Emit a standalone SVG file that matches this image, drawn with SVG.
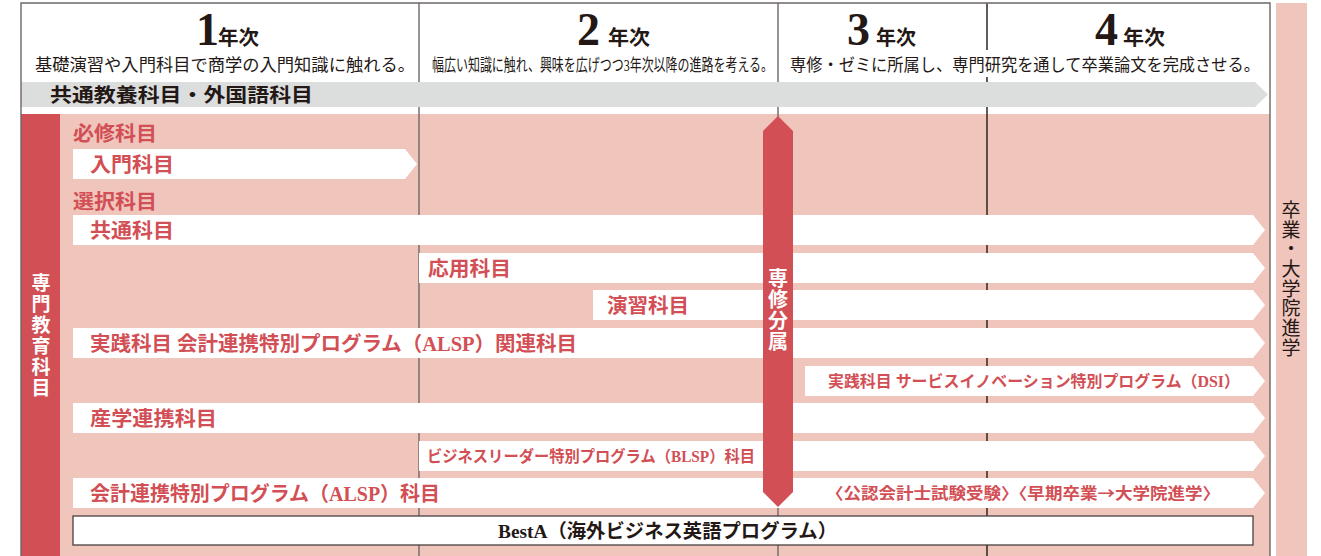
<svg xmlns="http://www.w3.org/2000/svg" width="1321" height="556" viewBox="0 0 1321 556">
<style>
.jp{font-family:"Liberation Serif","Noto Sans CJK JP",serif}
.cjk{font-family:"Noto Sans CJK JP",sans-serif}
.dk{fill:#231815}
.rd{fill:#d24f55}
.wt{fill:#ffffff}
.lbl{font-size:20px;font-weight:700}
.sm{font-size:16px;font-weight:700}
.sub{font-size:17px;font-weight:400}
.num{font-family:"Liberation Serif",serif;font-size:46px;font-weight:700}
.yr{font-size:20px;font-weight:700}
.bar{fill:#ffffff}
.div{stroke:#6e6767;stroke-width:1.4;fill:none}
</style>
<rect width="1321" height="556" fill="#ffffff"/>
<!-- background areas -->
<rect x="60" y="114" width="1210" height="442" fill="#f0c5bc"/>
<rect x="1276" y="3" width="31" height="553" fill="#f0c5bc"/>
<g id="connectors">
<line class="div" x1="419" y1="3" x2="419" y2="556"/>
<line class="div" x1="778" y1="3" x2="778" y2="556"/>
<line x1="987" y1="3" x2="987" y2="50" stroke="#231815" stroke-width="1.4"/>
<line x1="987" y1="77" x2="987" y2="556" stroke="#231815" stroke-width="1.4"/>
</g>
<!-- header -->
<g id="year1">
<text class="num dk" x="196" y="45">1</text>
<text class="jp yr dk" x="218" y="45" textLength="41" lengthAdjust="spacingAndGlyphs">年次</text>
<text class="jp sub dk" x="35" y="71" textLength="380" lengthAdjust="spacingAndGlyphs">基礎演習や入門科目で商学の入門知識に触れる。</text>
</g>
<g id="year2">
<text class="num dk" x="577" y="45">2</text>
<text class="jp yr dk" x="608" y="45" textLength="42" lengthAdjust="spacingAndGlyphs">年次</text>
<text class="jp sub dk" x="432" y="71" textLength="341" lengthAdjust="spacingAndGlyphs">幅広い知識に触れ、興味を広げつつ3年次以降の進路を考える。</text>
</g>
<g id="year3">
<text class="num dk" x="847" y="45">3</text>
<text class="jp yr dk" x="876" y="45" textLength="40" lengthAdjust="spacingAndGlyphs">年次</text>
</g>
<g id="year4">
<text class="num dk" x="1095" y="45">4</text>
<text class="jp yr dk" x="1123" y="45" textLength="42" lengthAdjust="spacingAndGlyphs">年次</text>
</g>
<g id="year34-sub">
<text class="jp sub dk" x="790" y="71" textLength="470" lengthAdjust="spacingAndGlyphs">専修・ゼミに所属し、専門研究を通して卒業論文を完成させる。</text>
</g>
<g id="general">
<polygon points="21,82 1255,82 1268,94.5 1255,107 21,107" fill="#dcdddd"/>
<text class="jp dk" x="50" y="102" font-size="19" font-weight="700" textLength="263" lengthAdjust="spacingAndGlyphs">共通教養科目・外国語科目</text>
</g>
<g id="senmon">
<rect x="21" y="114" width="39" height="442" fill="#d24f55"/>
<text class="jp wt" font-size="19" font-weight="700" text-anchor="middle">
<tspan x="41" y="290">専</tspan><tspan x="41" y="311">門</tspan><tspan x="41" y="332">教</tspan><tspan x="41" y="353">育</tspan><tspan x="41" y="374">科</tspan><tspan x="41" y="395">目</tspan>
</text>
</g>
<g id="labels">
<text class="jp lbl rd" x="73" y="141" textLength="84" lengthAdjust="spacingAndGlyphs">必修科目</text>
<text class="jp lbl rd" x="73" y="209" textLength="84" lengthAdjust="spacingAndGlyphs">選択科目</text>
</g>
<g id="nyumon">
<polygon class="bar" points="73,149 405,149 417,164 405,179 73,179"/>
<text class="jp lbl rd" x="90" y="172" textLength="84" lengthAdjust="spacingAndGlyphs">入門科目</text>
</g>
<g id="kyotsu">
<polygon class="bar" points="73,215 1253,215 1265,230 1253,245 73,245"/>
<text class="jp lbl rd" x="90" y="238" textLength="84" lengthAdjust="spacingAndGlyphs">共通科目</text>
</g>
<g id="oyo">
<polygon class="bar" points="419,253 1253,253 1265,268 1253,283 419,283"/>
<text class="jp lbl rd" x="428" y="276" textLength="83" lengthAdjust="spacingAndGlyphs">応用科目</text>
</g>
<g id="enshu">
<polygon class="bar" points="593,290 1253,290 1265,305 1253,320 593,320"/>
<text class="jp lbl rd" x="607" y="313" textLength="82" lengthAdjust="spacingAndGlyphs">演習科目</text>
</g>
<g id="jissen-alsp">
<polygon class="bar" points="73,328 1253,328 1265,343 1253,358 73,358"/>
<text class="jp lbl rd" x="90" y="351" textLength="487" lengthAdjust="spacingAndGlyphs">実践科目 会計連携特別プログラム（ALSP）関連科目</text>
</g>
<g id="jissen-dsi">
<polygon class="bar" points="805,366 1253,366 1265,381 1253,396 805,396"/>
<text class="jp sm rd" x="828" y="387" textLength="412" lengthAdjust="spacingAndGlyphs">実践科目 サービスイノベーション特別プログラム（DSI）</text>
</g>
<g id="sangaku">
<polygon class="bar" points="73,403 1253,403 1265,418 1253,433 73,433"/>
<text class="jp lbl rd" x="90" y="426" textLength="127" lengthAdjust="spacingAndGlyphs">産学連携科目</text>
</g>
<g id="blsp">
<polygon class="bar" points="419,441 1253,441 1265,456 1253,471 419,471"/>
<text class="jp sm rd" x="427" y="462" textLength="328" lengthAdjust="spacingAndGlyphs">ビジネスリーダー特別プログラム（BLSP）科目</text>
</g>
<g id="alsp">
<polygon class="bar" points="73,478 1253,478 1265,493 1253,508 73,508"/>
<text class="jp lbl rd" x="90" y="501" textLength="350" lengthAdjust="spacingAndGlyphs">会計連携特別プログラム（ALSP）科目</text>
<text class="cjk sm rd" x="826" y="499" textLength="394" lengthAdjust="spacingAndGlyphs">〈公認会計士試験受験〉〈早期卒業→大学院進学〉</text>
</g>
<g id="besta">
<rect x="73" y="516" width="1180" height="29" fill="#ffffff" stroke="#4a4040" stroke-width="1.3"/>
<text class="jp dk" x="498" y="538" font-size="19" font-weight="700" textLength="339" lengthAdjust="spacingAndGlyphs">BestA（海外ビジネス英語プログラム）</text>
</g>
<g id="senshu-bunzoku">
<polygon points="763,131 778,116 793,131 793,492 778,507 763,492" fill="#d24f55"/>
<text class="jp wt" font-size="20" font-weight="700" text-anchor="middle">
<tspan x="778" y="286">専</tspan><tspan x="778" y="307">修</tspan><tspan x="778" y="328">分</tspan><tspan x="778" y="349">属</tspan>
</text>
</g>
<g id="graduation">
<text class="jp dk" font-size="19" text-anchor="middle">
<tspan x="1291" y="217">卒</tspan><tspan x="1291" y="237">業</tspan><tspan x="1291" y="256">・</tspan><tspan x="1291" y="276">大</tspan><tspan x="1291" y="296">学</tspan><tspan x="1291" y="315">院</tspan><tspan x="1291" y="335">進</tspan><tspan x="1291" y="355">学</tspan>
</text>
</g>
<g id="frame">
<polyline points="21,556 21,3 1270,3 1270,556" fill="none" stroke="#6e6767" stroke-width="1.4"/>
</g>
</svg>
